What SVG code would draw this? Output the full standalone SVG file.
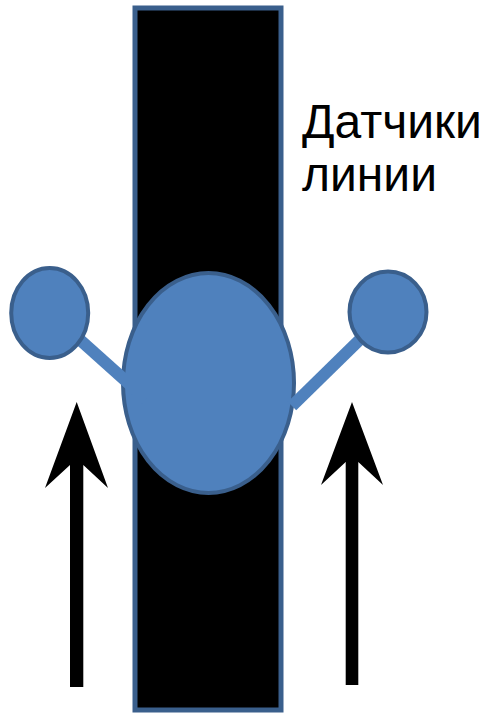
<svg xmlns="http://www.w3.org/2000/svg" width="485" height="714" viewBox="0 0 485 714">
<style>
.blue{fill:#4F81BD;stroke:#3A5F8C;stroke-width:4}
.stick{stroke:#4F81BD;stroke-width:12;stroke-linecap:butt}
.arrow{fill:#000}
.lbl{font-family:"Liberation Sans",Arial,sans-serif;font-size:48px;fill:#000}
</style>
<g id="line">
<rect x="135" y="8" width="146" height="702" fill="#000" stroke="#3A5F8C" stroke-width="5"/>
</g>
<g id="robot">
<ellipse class="blue" cx="208.5" cy="383" rx="85.5" ry="110"/>
</g>
<g id="connectors">
<line class="stick" x1="50" y1="313" x2="146" y2="399"/>
<line class="stick" x1="388" y1="312" x2="292" y2="406"/>
</g>
<g id="sensor-left">
<ellipse class="blue" cx="49.7" cy="313" rx="38.5" ry="45"/>
</g>
<g id="sensor-right">
<ellipse class="blue" cx="388" cy="312" rx="38.5" ry="40.5"/>
</g>
<g id="arrow-left">
<polygon class="arrow" points="76.7,402 108,488 83.3,465 83.3,687 70,687 70,465 45,488"/>
</g>
<g id="arrow-right">
<polygon class="arrow" points="352,402 383,485 358.3,462 358.3,685 345.7,685 345.7,462 321,485"/>
</g>
<g id="label">
<text class="lbl" x="302" y="138">Датчики</text>
<text class="lbl" x="302" y="191">линии</text>
</g>
</svg>
